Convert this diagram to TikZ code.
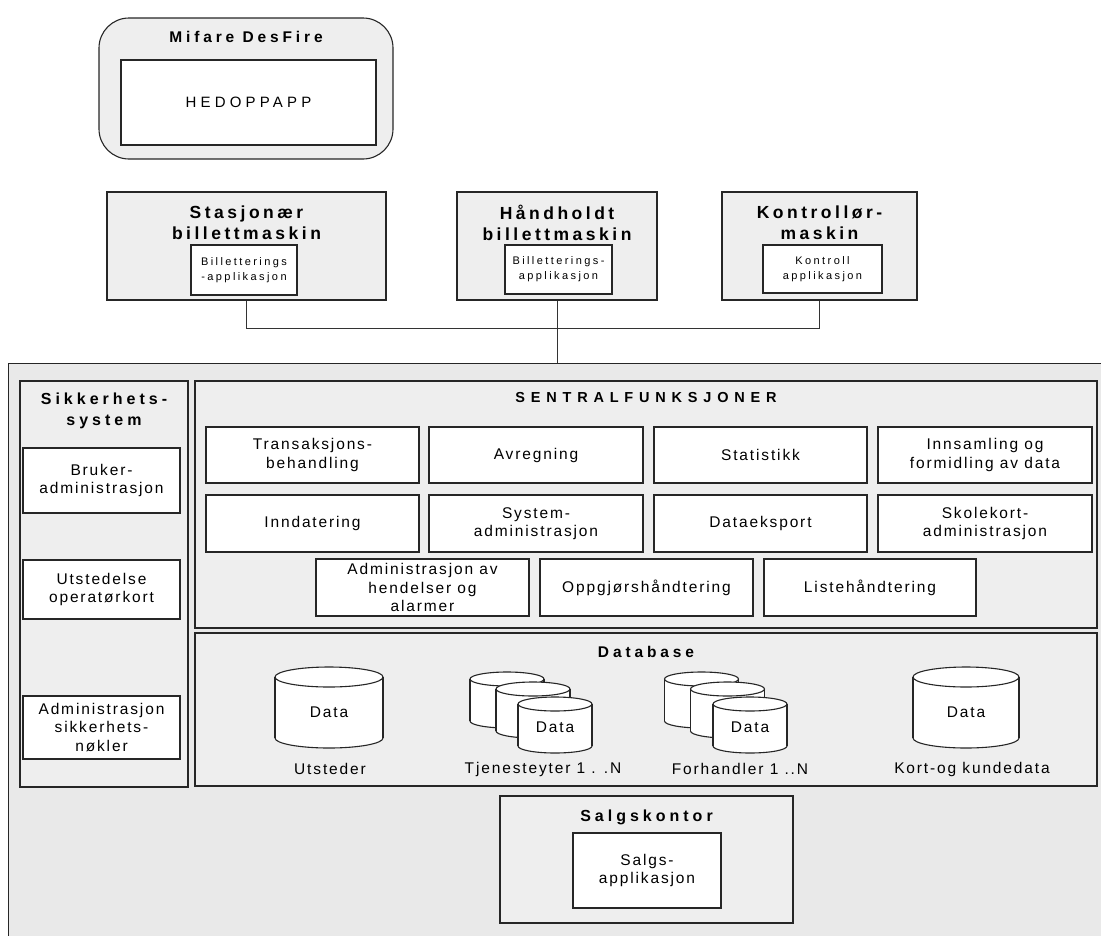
\documentclass[tikz,border=0pt]{standalone}
\usepackage{fontspec}
\setmainfont{Liberation Sans}[LetterSpace=25]
\tikzset{
  cyl/.style={draw=black!85,line width=1.1pt},
}
% database cylinder: x, y, half width, half body height, ellipse radius
\newcommand{\dbcyl}[5]{%
  \fill[white] (#1,{#2+#4}) ellipse[x radius=#3,y radius=#5];
  \fill[white] ({#1-#3},{#2-#4}) rectangle ({#1+#3},{#2+#4});
  \fill[white] (#1,{#2-#4}) ellipse[x radius=#3,y radius=#5];
  \draw[cyl] ({#1-#3},{#2-#4}) -- ({#1-#3},{#2+#4}) ({#1+#3},{#2-#4}) -- ({#1+#3},{#2+#4});
  \begin{scope}
    \clip ({#1-#3-2},{#2+#4}) rectangle ({#1+#3+2},{#2+#4+#5+2});
    \draw[cyl] (#1,{#2+#4}) ellipse[x radius=#3,y radius=#5];
  \end{scope}
  \draw[cyl] (#1,{#2-#4}) ellipse[x radius=#3,y radius=#5];}
\begin{document}
\begin{tikzpicture}[x=1pt,y=-1pt,
  panel/.style={draw=black!85,line width=1.1pt,fill=gray!13,inner sep=0pt},
  box/.style={draw=black!85,line width=1.1pt,fill=white,inner sep=0pt,align=center,font=\fontsize{15.5}{18.5}\selectfont\addfontfeatures{LetterSpace=12}},
  smallbox/.style={box,font=\fontsize{11}{15}\selectfont\addfontfeatures{LetterSpace=22}},
  title/.style={align=center,inner sep=0pt,font=\fontsize{17.5}{21}\selectfont\bfseries\addfontfeatures{LetterSpace=20}},
  txt/.style={inner sep=0pt,font=\fontsize{15.5}{18.5}\selectfont\addfontfeatures{LetterSpace=12}},
  wire/.style={draw=black!80,line width=1pt}]
\useasboundingbox (0,0) rectangle (1101,935);
\clip (0,0) rectangle (1101,935);

% card
\node[panel,rounded corners=30pt,minimum width=294,minimum height=141] (mifare) at (246,88.5) {};
\node[title,font=\fontsize{15.5}{20}\selectfont\bfseries] (mifaretitle) at (246,37) {Mifare DesFire};
\node[box,minimum width=255,minimum height=85,font=\fontsize{15}{18}\selectfont\addfontfeatures{LetterSpace=28}] (hedoppapp) at (248.5,102.5) {HEDOPPAPP};

% machines
\node[panel,minimum width=279,minimum height=108] (stasj) at (246.5,246) {};
\node[title] (stasjtitle) at (246.5,222.5) {Stasjonær\\billettmaskin};
\node[smallbox,minimum width=106,minimum height=50] (stasjapp) at (244,270) {Billetterings\\-applikasjon};

\node[panel,minimum width=200,minimum height=108] (hand) at (557,246) {};
\node[title] (handtitle) at (557,222.5) {Håndholdt\\billettmaskin};
\node[smallbox,minimum width=107,minimum height=49] (handapp) at (558.5,269.5) {Billetterings-\\applikasjon};

\node[panel,minimum width=195,minimum height=108] (kontr) at (819.5,246) {};
\node[title] (kontrtitle) at (819.5,222.5) {Kontrollør-\\maskin};
\node[smallbox,minimum width=119,minimum height=48] (kontrapp) at (822.5,269) {Kontroll\\applikasjon};

% central system
\node[panel,fill=gray!17,anchor=north west,minimum width=1120,minimum height=600] (base) at (8,363) {};
\draw[wire] (stasj.south) -- ++(0,28) -| (kontr.south);
\draw[wire] (hand.south) -- (hand.south |- base.north);

% security
\node[panel,minimum width=168,minimum height=406] (sikk) at (104,584) {};
\node[title,font=\fontsize{16}{21}\selectfont\bfseries] (sikktitle) at (104,410.5) {Sikkerhets-\\system};
\node[box,minimum width=157,minimum height=65] (bruker) at (101.5,480.5) {Bruker-\\administrasjon};
\node[box,minimum width=157,minimum height=59] (utstedelse) at (101.5,589.5) {Utstedelse\\operatørkort};
\node[box,minimum width=157,minimum height=63] (nokler) at (101.5,727.5) {Administrasjon\\sikkerhets-\\nøkler};

% functions
\node[panel,minimum width=902,minimum height=247] (sentral) at (646,504.5) {};
\node[title,font=\fontsize{14.5}{18}\selectfont\bfseries\addfontfeatures{LetterSpace=40}] (sentraltitle) at (646,398) {SENTRALFUNKSJONER};
\node[box,minimum width=213,minimum height=56] (trans) at (312.5,455) {Transaksjons-\\behandling};
\node[box,minimum width=214,minimum height=56] (avregning) at (536,455) {Avregning};
\node[box,minimum width=213,minimum height=56] (statistikk) at (760.5,455) {Statistikk};
\node[box,minimum width=214,minimum height=56] (innsamling) at (985,455) {Innsamling og\\formidling av data};
\node[box,minimum width=213,minimum height=57] (inndatering) at (312.5,523.5) {Inndatering};
\node[box,minimum width=214,minimum height=57] (sysadm) at (536,523.5) {System-\\administrasjon};
\node[box,minimum width=213,minimum height=57] (eksport) at (760.5,523.5) {Dataeksport};
\node[box,minimum width=214,minimum height=57] (skolekort) at (985,523.5) {Skolekort-\\administrasjon};
\node[box,minimum width=213,minimum height=57] (hendelser) at (422.5,587.5) {Administrasjon av\\hendelser og\\alarmer};
\node[box,minimum width=213,minimum height=57] (oppgjor) at (646.5,587.5) {Oppgjørshåndtering};
\node[box,minimum width=212,minimum height=57] (liste) at (870,587.5) {Listehåndtering};

% database
\node[panel,minimum width=902,minimum height=153] (database) at (646,709.5) {};
\node[title,font=\fontsize{15.5}{20}\selectfont\bfseries] (dbtitle) at (646,652) {Database};
\dbcyl{329}{707.5}{54}{30.5}{10}
\node[txt] (utstdata) at (329,712) {Data};
\node[txt] (utsteder) at (330,769) {Utsteder};
\dbcyl{507}{700}{37}{21}{7}
\dbcyl{533}{710}{37}{21}{7}
\dbcyl{555}{725}{37}{21}{7}
\node[txt] (tjendata) at (555,727) {Data};
\node[txt] (tjeneste) at (543,769) {Tjenesteyter 1 . .N};
\dbcyl{701.5}{700}{37}{21}{7}
\dbcyl{727.5}{710}{37}{21}{7}
\dbcyl{750}{725}{37}{21}{7}
\node[txt] (forhdata) at (750,727) {Data};
\node[txt] (forhandler) at (740,769) {Forhandler 1 ..N};
\dbcyl{966}{707.5}{53}{30.5}{10}
\node[txt] (kortdata) at (966,712) {Data};
\node[txt] (kort) at (972,769) {Kort-og kundedata};

% sales office
\node[panel,minimum width=293,minimum height=127] (salg) at (646.5,859.5) {};
\node[title,font=\fontsize{16}{20}\selectfont\bfseries] (salgtitle) at (646.5,817) {Salgskontor};
\node[box,minimum width=148,minimum height=75] (salgapp) at (647,870.5) {Salgs-\\applikasjon};
\end{tikzpicture}
\end{document}
